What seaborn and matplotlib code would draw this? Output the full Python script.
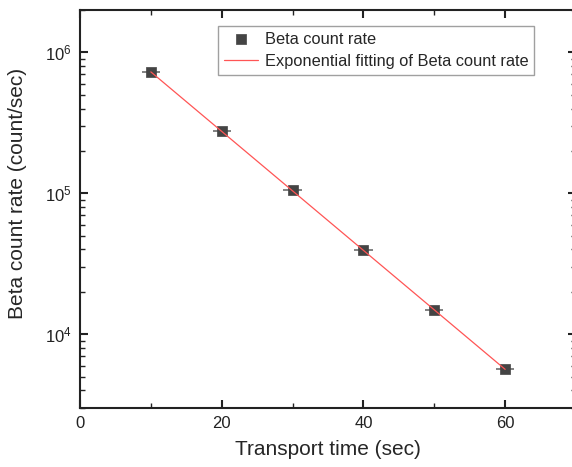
import numpy as np
import pandas as pd
import matplotlib
matplotlib.use("Agg")
import matplotlib.pyplot as plt
import seaborn as sns

# ---- data ----
transport_time = [10, 20, 30, 40, 50, 60]
count_rate = [7.25e5, 2.75e5, 1.05e5, 3.95e4, 1.48e4, 5.65e3]
time_err = [1.3, 1.3, 1.3, 1.3, 1.3, 1.3]
x_ticks = [0, 20, 40, 60]
point_label = "Beta count rate"
fit_label = "Exponential fitting of Beta count rate"
x_label = "Transport time (sec)"
y_label = "Beta count rate (count/sec)"

sns.set_theme(style="ticks")
plt.rcParams['font.family'] = ['Liberation Sans', 'DejaVu Sans']
plt.rcParams['mathtext.fontset'] = 'custom'
plt.rcParams['mathtext.rm'] = 'Liberation Sans'
plt.rcParams['mathtext.it'] = 'Liberation Sans:italic'

df = pd.DataFrame({"t": transport_time, "rate": count_rate})

# exponential fit (linear fit in log space)
slope, intercept = np.polyfit(df["t"], np.log(df["rate"]), 1)
fit_t = np.linspace(min(transport_time), max(transport_time), 50)
fit_df = pd.DataFrame({"t": fit_t, "rate": np.exp(intercept + slope * fit_t)})

fig = plt.figure(figsize=(5.72, 4.67), dpi=100)
ax = fig.add_axes([80 / 572, 59 / 467, 496 / 572, 398 / 467])

ax.errorbar(df["t"], df["rate"], xerr=time_err, fmt='none', ecolor='#777777',
            elinewidth=1.3, capsize=0, zorder=2)
sns.scatterplot(data=df, x="t", y="rate", ax=ax, marker='s', s=42,
                color='#444444', edgecolor='#444444', linewidth=0.5,
                label=point_label, zorder=3)
sns.lineplot(data=fit_df, x="t", y="rate", ax=ax, color='#ff5555', linewidth=0.9,
             label=fit_label, zorder=4)

ax.set_yscale('log')
ax.set_xlim(0, 70)
ax.set_ylim(3e3, 2e6)
ax.set_xticks(x_ticks)
ax.set_xticks([10, 30, 50, 70], minor=True)

ax.set_xlabel(x_label, fontsize=15, labelpad=6)
ax.set_ylabel(y_label, fontsize=15)
ax.yaxis.set_label_coords(-0.106, 0.538)

for s in ax.spines.values():
    s.set_linewidth(1.5)
    s.set_color('#222222')
ax.tick_params(which='both', direction='in', top=True, right=True,
               labelsize=12, colors='#222222', labelcolor='#222222')
ax.tick_params(which='major', length=6, width=1.5, pad=6)
ax.tick_params(which='minor', length=3.5, width=1.0)

leg = ax.legend(loc='upper left', bbox_to_anchor=(0.278, 0.96), borderaxespad=0,
                fontsize=11.8, frameon=True, fancybox=False, edgecolor='#888888',
                handlelength=2.1, handletextpad=0.4, labelspacing=0.45,
                borderpad=0.35, markerscale=1.0)
leg.get_frame().set_linewidth(1.0)

fig.savefig("out.png", dpi=100)
